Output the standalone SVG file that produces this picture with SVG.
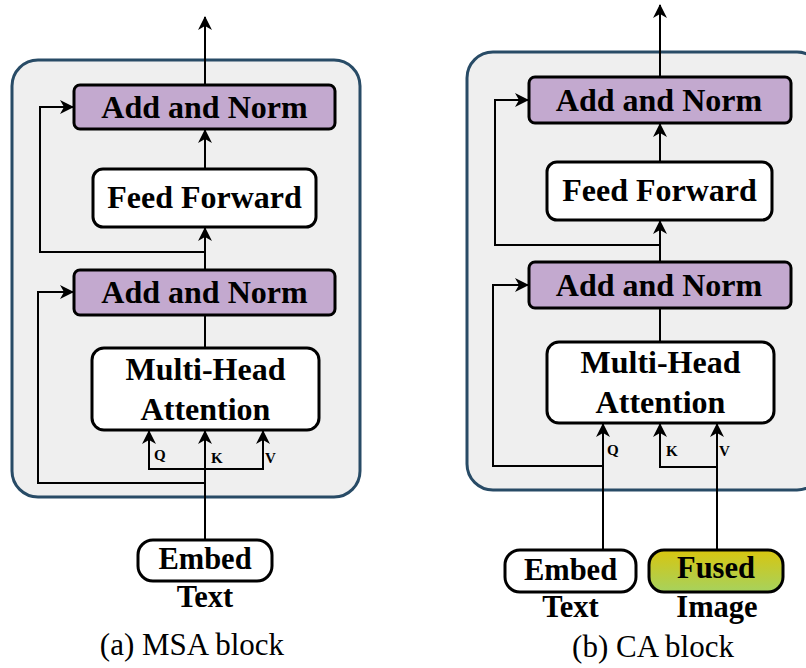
<svg xmlns="http://www.w3.org/2000/svg" width="806" height="668" viewBox="0 0 806 668">
  <style>
    .panel { fill: #efefef; stroke: #284b66; stroke-width: 3; }
    .box { stroke: #000; stroke-width: 3; }
    .norm { fill: #c3a9cf; }
    .plain { fill: #ffffff; }
    .lbl { font-family: "Liberation Serif", "Times New Roman", serif; font-weight: bold; fill: #000; text-anchor: middle; }
    .big { font-size: 32px; }
    .io { font-size: 30.5px; }
    .qkv { font-size: 15px; text-anchor: start; }
    .cap { font-family: "Liberation Serif", "Times New Roman", serif; font-size: 31px; fill: #000; text-anchor: middle; }
    .wire { fill: none; stroke: #000; stroke-width: 2; }
    .arrow { marker-end: url(#head); }
  </style>
  <defs>
    <marker id="head" viewBox="0 0 14 14" refX="13" refY="7" markerWidth="14" markerHeight="14" markerUnits="userSpaceOnUse" orient="auto">
      <path d="M0,0 L14,7 L0,14 L4,7 Z" fill="#000"/>
    </marker>
    <linearGradient id="fusedFill" x1="0" y1="0" x2="0" y2="1">
      <stop offset="0" stop-color="#d8c50f"/>
      <stop offset="1" stop-color="#a6d25e"/>
    </linearGradient>
  </defs>

  <!-- (a) MSA block -->
  <g id="msa-panel">
    <rect class="panel" x="12" y="60" width="348" height="437" rx="26"/>
  </g>

  <!-- (b) CA block -->
  <g id="ca-panel">
    <rect class="panel" x="467" y="52" width="356" height="438" rx="26"/>
  </g>

  <g id="connectors">
    <!-- MSA -->
    <path class="wire arrow" d="M205,85 L205,17"/>
    <path class="wire arrow" d="M205,169 L205,130"/>
    <path class="wire arrow" d="M205,270 L205,228"/>
    <path class="wire arrow" d="M205,252 L40,252 L40,107 L73,107"/>
    <path class="wire" d="M205,348 L205,315"/>
    <path class="wire arrow" d="M205,540 L205,431"/>
    <path class="wire arrow" d="M205,469 L149,469 L149,431"/>
    <path class="wire arrow" d="M205,469 L263,469 L263,431"/>
    <path class="wire arrow" d="M205,483 L38,483 L38,292 L73,292"/>
    <!-- CA -->
    <path class="wire arrow" d="M660,77 L660,5"/>
    <path class="wire arrow" d="M660,162 L660,124"/>
    <path class="wire arrow" d="M660,262 L660,221"/>
    <path class="wire arrow" d="M660,245 L495,245 L495,100 L528,100"/>
    <path class="wire" d="M660,342 L660,308"/>
    <path class="wire arrow" d="M603,550 L603,424"/>
    <path class="wire arrow" d="M603,466 L493,466 L493,285 L528,285"/>
    <path class="wire arrow" d="M717,550 L717,424"/>
    <path class="wire arrow" d="M717,467 L660,467 L660,424"/>
  </g>

  <!-- MSA nodes -->
  <g id="msa-addnorm-top">
    <rect class="box norm" x="74" y="85" width="261" height="44" rx="6"/>
    <text class="lbl big" x="204.5" y="118">Add and Norm</text>
  </g>
  <g id="msa-feedforward">
    <rect class="box plain" x="93" y="169" width="223" height="58" rx="10"/>
    <text class="lbl big" x="204.5" y="208">Feed Forward</text>
  </g>
  <g id="msa-addnorm-bottom">
    <rect class="box norm" x="74" y="270" width="261" height="45" rx="6"/>
    <text class="lbl big" x="204.5" y="303">Add and Norm</text>
  </g>
  <g id="msa-attention">
    <rect class="box plain" x="92" y="348" width="227" height="82" rx="12"/>
    <text class="lbl big" x="205.5" y="380">Multi-Head</text>
    <text class="lbl big" x="205.5" y="420">Attention</text>
  </g>
  <g id="msa-qkv">
    <text class="lbl qkv" x="154" y="460">Q</text>
    <text class="lbl qkv" x="211" y="463">K</text>
    <text class="lbl qkv" x="265" y="463">V</text>
  </g>
  <g id="msa-embed">
    <rect class="box plain" x="138" y="540" width="134" height="41" rx="15"/>
    <text class="lbl io" x="205" y="569">Embed</text>
    <text class="lbl io" x="205" y="607">Text</text>
  </g>
  <text class="cap" x="192" y="655">(a) MSA block</text>

  <!-- CA nodes -->
  <g id="ca-addnorm-top">
    <rect class="box norm" x="529" y="77" width="262" height="46" rx="6"/>
    <text class="lbl big" x="659" y="111">Add and Norm</text>
  </g>
  <g id="ca-feedforward">
    <rect class="box plain" x="547" y="162" width="225" height="58" rx="10"/>
    <text class="lbl big" x="659.5" y="201">Feed Forward</text>
  </g>
  <g id="ca-addnorm-bottom">
    <rect class="box norm" x="529" y="262" width="262" height="46" rx="6"/>
    <text class="lbl big" x="659" y="296">Add and Norm</text>
  </g>
  <g id="ca-attention">
    <rect class="box plain" x="547" y="342" width="227" height="81" rx="12"/>
    <text class="lbl big" x="660.5" y="373">Multi-Head</text>
    <text class="lbl big" x="660.5" y="413">Attention</text>
  </g>
  <g id="ca-qkv">
    <text class="lbl qkv" x="607" y="455">Q</text>
    <text class="lbl qkv" x="666" y="456">K</text>
    <text class="lbl qkv" x="719" y="456">V</text>
  </g>
  <g id="ca-embed">
    <rect class="box plain" x="505" y="550" width="131" height="42" rx="15"/>
    <text class="lbl io" x="570.5" y="580">Embed</text>
    <text class="lbl io" x="570.5" y="617">Text</text>
  </g>
  <g id="ca-fused">
    <rect class="box" fill="url(#fusedFill)" x="649" y="550" width="134" height="42" rx="15" stroke-width="3.5"/>
    <text class="lbl io" x="716" y="578">Fused</text>
    <text class="lbl io" x="717" y="617">Image</text>
  </g>
  <text class="cap" x="653" y="657">(b) CA block</text>
</svg>
